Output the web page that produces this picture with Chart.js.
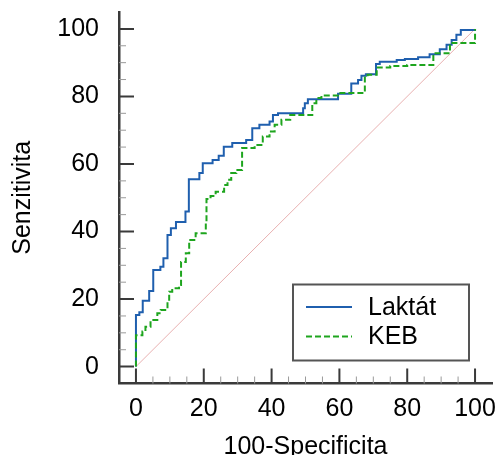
<!DOCTYPE html>
<html>
<head>
<meta charset="utf-8">
<script src="https://cdn.jsdelivr.net/npm/chart.js@4.4.0/dist/chart.umd.min.js"></script>
<style>
    body { margin: 0; background: #fff; }
    #wrap { width: 497px; height: 455px; }
</style>
</head>
<body>
<div id="wrap"><canvas id="rocChart" width="497" height="455"></canvas></div>
<script>
// ROC data (x = 100-Specificita, y = Senzitivita)
const seriesNames = ['Laktát', 'KEB'];

const laktatX = [0, 0, 1, 2, 3.9, 5.1, 7.2, 8.1, 9.3, 10.3, 11.8, 14.6, 15.6, 18.7, 19.7, 22.6, 24.4, 25.9, 28.4, 32.5,
    34.3, 36.4, 39.4, 40.4, 41.9, 49.3, 49.8, 50.7, 59.6, 63.5, 65.5, 66.5, 67.8, 70.8, 71.9, 76.9, 79.3, 83.2,
    86.6, 89.6, 91.6, 93.1, 94.5, 95.8, 100];
const laktatY = [0, 15.3, 16.1, 19.5, 22.4, 28.6, 29.6, 32.1, 39, 41, 42.8, 45.9, 55.5, 57.3, 60.2, 61.2, 62.4, 65.1, 66.2, 67.1,
    70.6, 71.6, 72.6, 74.5, 75, 76.5, 78, 79.2, 80.8, 83.8, 84.9, 86.1, 86.6, 89.6, 90.3, 90.8, 91.1, 91.6,
    92.5, 94, 95.3, 96.7, 98.3, 99.7, 100];

const kebX = [0, 0, 1.9, 2.8, 4.3, 6.3, 7.3, 9.3, 9.8, 10.7, 12.7, 13.3, 14.7, 15.7, 17.6, 20.6, 20.8, 22, 23.5, 26,
    27, 28.1, 29.6, 31.3, 35, 37.4, 39.4, 40.9, 42.9, 45.5, 52, 53.2, 54.7, 59.6, 67.5, 68.3, 71, 75, 80,
    87.7, 92.6, 100];
const kebY = [0, 9.3, 10.4, 11.8, 13.8, 15.8, 16.8, 19.4, 22.2, 23.2, 24.2, 31, 33.6, 37.5, 39.5, 42.5, 49.6, 50.5, 51.8, 53.8,
    55.3, 57.3, 58.2, 64.7, 65.6, 68.1, 69.6, 71.6, 73.1, 74.5, 78, 79.5, 80.3, 81, 85.6, 86.4, 88.6, 89, 89.3,
    92.8, 95.8, 100];

const refLineX = [0, 100];
const refLineY = [0, 100];

const tickValues = [0, 20, 40, 60, 80, 100];
const minorTickValues = [5, 10, 15, 25, 30, 35, 45, 50, 55, 65, 70, 75, 85, 90, 95];

const xTitle = '100-Specificita';
const yTitle = 'Senzitivita';

const toPoints = (xs, ys) => xs.map((x, i) => ({ x: x, y: ys[i] }));

Chart.defaults.font.family = "'Liberation Sans', Arial, sans-serif";
Chart.defaults.font.size = 25;
Chart.defaults.color = '#000';

// inward tick marks, like the original plot
const innerTicks = {
    id: 'innerTicks',
    beforeDatasetsDraw(chart) {
        const { ctx, chartArea, scales } = chart;
        const drawSet = (vals, len, width, color) => {
            ctx.strokeStyle = color;
            ctx.lineWidth = width;
            ctx.beginPath();
            vals.forEach(v => {
                const px = scales.x.getPixelForValue(v);
                ctx.moveTo(px, chartArea.bottom);
                ctx.lineTo(px, chartArea.bottom - len);
                const py = scales.y.getPixelForValue(v);
                ctx.moveTo(chartArea.left, py);
                ctx.lineTo(chartArea.left + len, py);
            });
            ctx.stroke();
        };
        ctx.save();
        drawSet(minorTickValues, 7, 1, '#9a9a9a');
        drawSet(tickValues, 15, 2, '#3a3a3a');
        ctx.restore();
    }
};

// boxed legend in the lower right corner
const boxLegend = {
    id: 'boxLegend',
    afterDraw(chart) {
        const { ctx, chartArea } = chart;
        const left = chartArea.right - 199;
        const top = chartArea.bottom - 99;
        ctx.save();
        ctx.fillStyle = '#fff';
        ctx.fillRect(left, top, 176, 76);
        ctx.strokeStyle = '#555';
        ctx.lineWidth = 2;
        ctx.strokeRect(left, top, 176, 76);
        [0, 1].forEach(i => {
            const ds = chart.data.datasets[i];
            const yy = top + 22.5 + i * 29.5;
            ctx.strokeStyle = ds.borderColor;
            ctx.lineWidth = ds.borderWidth;
            ctx.setLineDash(ds.borderDash || []);
            ctx.beginPath();
            ctx.moveTo(left + 13, yy);
            ctx.lineTo(left + 59, yy);
            ctx.stroke();
            ctx.setLineDash([]);
            ctx.fillStyle = '#000';
            ctx.font = "25px 'Liberation Sans', Arial, sans-serif";
            ctx.textBaseline = 'middle';
            ctx.fillText(ds.label, left + 75, yy + 1);
        });
        ctx.restore();
    }
};

const axisCommon = {
    type: 'linear',
    min: -5,
    max: 105,
    afterBuildTicks: scale => { scale.ticks = tickValues.map(v => ({ value: v })); },
    grid: { display: false },
    border: { display: true, color: '#3a3a3a', width: 2.5 }
};

new Chart(document.getElementById('rocChart'), {
    type: 'line',
    data: {
        datasets: [
            {
                label: seriesNames[0],
                data: toPoints(laktatX, laktatY),
                borderColor: '#1f5fae',
                borderWidth: 2,
                stepped: true,
                pointRadius: 0,
                fill: false,
                order: 1
            },
            {
                label: seriesNames[1],
                data: toPoints(kebX, kebY),
                borderColor: '#1ea51e',
                borderWidth: 2,
                borderDash: [6, 3],
                stepped: true,
                pointRadius: 0,
                fill: false,
                order: 0
            },
            {
                label: '',
                data: toPoints(refLineX, refLineY),
                borderColor: '#e8b0b0',
                borderWidth: 1,
                pointRadius: 0,
                fill: false,
                order: 2
            }
        ]
    },
    options: {
        responsive: false,
        animation: false,
        layout: { padding: { top: 12, right: 5, left: 0, bottom: 0 } },
        scales: {
            x: {
                ...axisCommon,
                ticks: { color: '#000', padding: 3 },
                title: { display: true, text: xTitle, color: '#000', padding: { top: 0, bottom: -7 } },
                afterFit: scale => {
                    scale.height = 71.5;
                    scale.paddingLeft = 0;
                    scale.paddingRight = 0;
                }
            },
            y: {
                ...axisCommon,
                ticks: { color: '#000', padding: 12 },
                title: { display: true, text: yTitle, color: '#000', padding: { top: 8, bottom: 8 } },
                afterFit: scale => {
                    scale.width = 119;
                    scale.paddingTop = 0;
                    scale.paddingBottom = 0;
                }
            }
        },
        plugins: {
            legend: { display: false },
            tooltip: { enabled: false }
        }
    },
    plugins: [innerTicks, boxLegend]
});
</script>
</body>
</html>
